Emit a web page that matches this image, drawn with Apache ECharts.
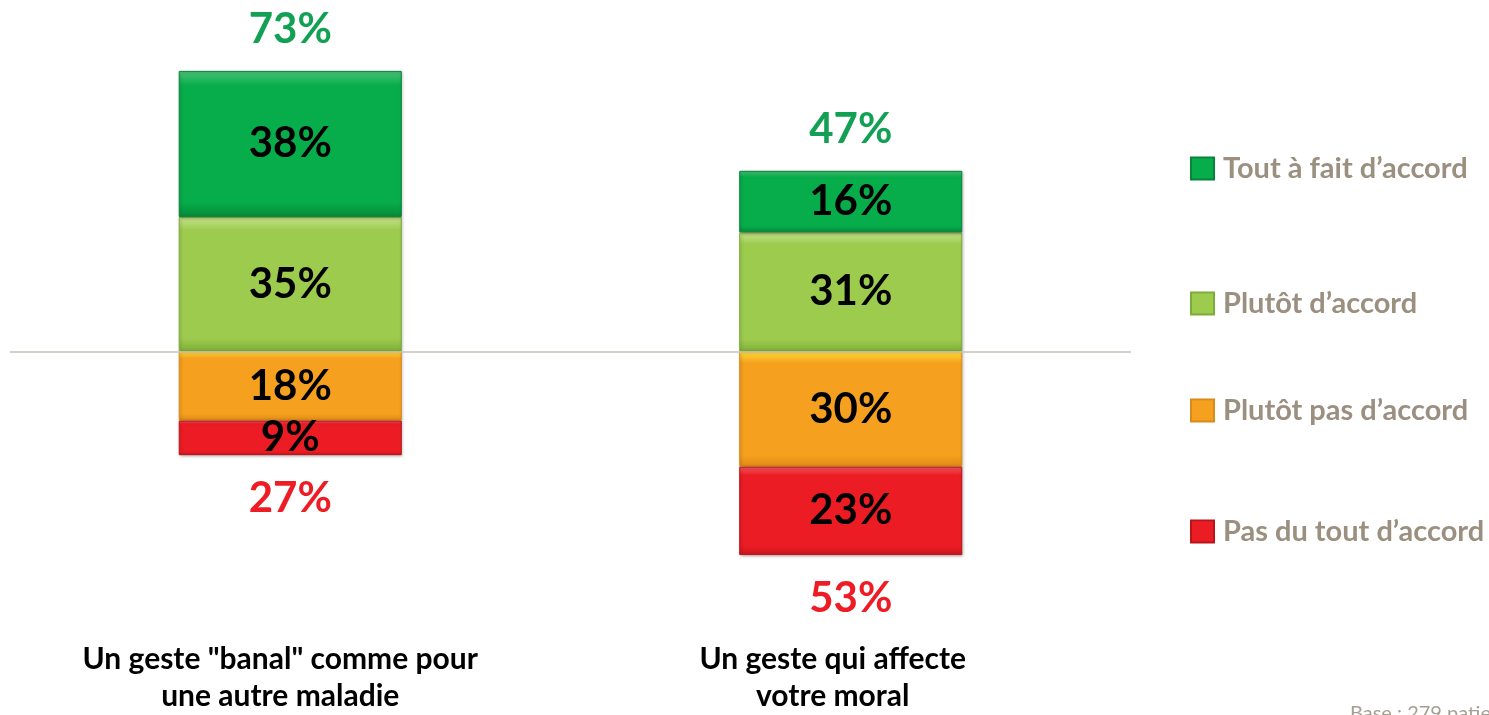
<!DOCTYPE html>
<html><head><meta charset="utf-8">
<script src="https://cdn.jsdelivr.net/npm/echarts@6/dist/echarts.min.js"></script>
<style>html,body{margin:0;padding:0;background:#fff}#c{width:1489px;height:715px}</style>
</head><body><div id="c"></div>
<script>
const categories = ['Un geste "banal" comme pour\nune autre maladie', 'Un geste qui affecte\nvotre moral'];
const seriesNames = ['Tout à fait d\u2019accord', 'Plutôt d\u2019accord', 'Plutôt pas d\u2019accord', 'Pas du tout d\u2019accord'];
const toutAFait = [38, 16];
const plutotAccord = [35, 31];
const plutotPas = [-18, -30];
const pasDuTout = [-9, -23];
const totalAccord = [73, 47];
const totalDesaccord = [-27, -53];

const FONT = 'Lato';
function grad(light, main, dark) {
  return new echarts.graphic.LinearGradient(0, 0, 0, 1, [
    {offset: 0, color: light}, {offset: 0.1, color: main},
    {offset: 0.9, color: main}, {offset: 1, color: dark}
  ]);
}
const styles = [
  {color: grad('#4CC27A', '#07AD4A', '#058A3B'), border: '#06843A'},
  {color: grad('#C5E38C', '#9CCB4E', '#7FAF36'), border: '#7FAA3C'},
  {color: grad('#FFE033', '#F5A01E', '#E08A16'), border: '#D88A1A'},
  {color: grad('#F5575C', '#EC1C24', '#C8141B'), border: '#B8141A'}
];
const inLabel = {show: true, position: 'inside', color: '#000', fontFamily: FONT, fontWeight: 'bold', fontSize: 42,
  formatter: p => Math.abs(p.value) + '%'};

function barSeries(idx, data) {
  return {
    name: seriesNames[idx], type: 'bar', stack: 'all', data: data, barWidth: '39.8%',
    itemStyle: {color: styles[idx].color, borderColor: styles[idx].border, borderWidth: 1,
      shadowColor: 'rgba(0,0,0,0.25)', shadowBlur: 3, shadowOffsetX: 1, shadowOffsetY: 1},
    label: inLabel
  };
}

const chart = echarts.init(document.getElementById('c'));
const legendTops = [154, 289, 396, 517];
const legends = seriesNames.map((n, i) => ({
  data: [n], orient: 'vertical', left: 1190, top: legendTops[i], itemWidth: 23, itemHeight: 22, padding: 0,
  icon: 'rect', selectedMode: false,
  textStyle: {color: '#9B9080', fontFamily: FONT, fontWeight: 'bold', fontSize: 29, padding: [0, 0, 0, 4]}
}));

chart.setOption({
  animation: false,
  grid: {left: 10, right: 358, top: 44, height: 539},
  legend: legends,
  xAxis: {
    type: 'category', data: categories.map((c, i) => ({value: c,
      textStyle: {padding: i === 0 ? [0, 20, 0, 0] : [0, 36, 0, 0]}})),
    position: 'bottom',
    axisLine: {show: false, onZero: false}, axisTick: {show: false},
    axisLabel: {color: '#000', fontFamily: FONT, fontWeight: 'bold', fontSize: 30, lineHeight: 37, margin: 59, interval: 0}
  },
  yAxis: {type: 'value', min: -60, max: 80, show: false, splitLine: {show: false}},
  series: [
    Object.assign(barSeries(1, plutotAccord), {
      markLine: {silent: true, symbol: 'none', label: {show: false},
        lineStyle: {color: '#C9C2B6', width: 1.5, type: 'solid'}, data: [{yAxis: 0}]}
    }),
    barSeries(0, toutAFait),
    barSeries(2, plutotPas),
    barSeries(3, pasDuTout),
    {type: 'scatter', symbolSize: 0, data: totalAccord, z: 5, itemStyle: {opacity: 1},
      label: {show: true, position: 'top', distance: 20, color: '#12A154', fontFamily: FONT, fontWeight: 'bold', fontSize: 42,
        formatter: p => Math.abs(p.value) + '%'}},
    {type: 'scatter', symbolSize: 0, data: totalDesaccord, z: 5, itemStyle: {opacity: 1},
      label: {show: true, position: 'bottom', distance: 22, color: '#EE1C25', fontFamily: FONT, fontWeight: 'bold', fontSize: 42,
        formatter: p => Math.abs(p.value) + '%'}}
  ],
  graphic: [{type: 'text', left: 1350, top: 704,
    style: {text: 'Base : 279 patients', fill: '#A89F93', font: '20px ' + FONT}}]
});
</script></body></html>
